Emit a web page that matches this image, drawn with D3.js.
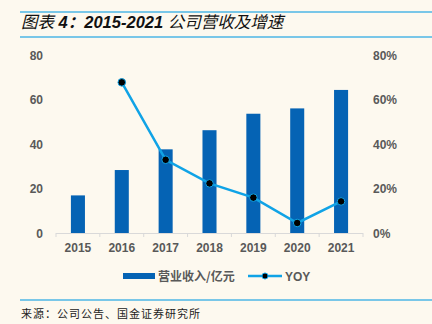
<!DOCTYPE html>
<html>
<head>
<meta charset="utf-8">
<script src="https://d3js.org/d3.v7.min.js"></script>
<style>
body { margin: 0; background: #fdf9ef; }
svg { display: block; }
</style>
</head>
<body>
<svg id="chart" width="432" height="324"></svg>
<script>
  var years = ["2015", "2016", "2017", "2018", "2019", "2020", "2021"];
  var revenue = [16.9, 28.3, 37.6, 46.2, 53.6, 56.0, 64.3];
  var yoy = [null, 0.677, 0.329, 0.223, 0.159, 0.045, 0.142];
  var leftTicks = [0, 20, 40, 60, 80];
  var rightTicks = [0, 0.2, 0.4, 0.6, 0.8];

  var svg = d3.select("#chart");
  var font = "'Liberation Sans', Arial, sans-serif";

  // title and rules
  svg.append("rect").attr("width", 432).attr("height", 324).attr("fill", "#fdf9ef");
  svg.append("line").attr("x1", 20).attr("x2", 432).attr("y1", 12).attr("y2", 12)
    .attr("stroke", "#4db6e6").attr("stroke-width", 1.5);
  svg.append("line").attr("x1", 20).attr("x2", 432).attr("y1", 37).attr("y2", 37)
    .attr("stroke", "#4db6e6").attr("stroke-width", 1.5);
  var title = svg.append("text").attr("x", 21).attr("y", 28)
    .attr("font-family", "'Liberation Sans', 'Noto Sans CJK SC', sans-serif")
    .attr("font-size", 16.5).attr("font-style", "italic")
    .attr("fill", "#111");
  title.append("tspan").attr("font-weight", "normal").text("图表\u00a0");
  title.append("tspan").attr("font-weight", "bold").text("4：2015-2021\u00a0");
  title.append("tspan").attr("font-weight", "normal").text("公司营收及增速");

  svg.append("line").attr("x1", 20).attr("x2", 432).attr("y1", 300).attr("y2", 300)
    .attr("stroke", "#4db6e6").attr("stroke-width", 1.5);
  svg.append("text").attr("x", 21).attr("y", 318)
    .attr("font-family", "'Noto Sans CJK SC', sans-serif")
    .attr("font-size", 11).attr("letter-spacing", 1).attr("fill", "#222")
    .text("来源：公司公告、国金证券研究所");

  var x = d3.scaleBand().domain(years).range([56, 363]).paddingInner(0.68).paddingOuter(0.34);
  var xs = d3.scaleBand().domain(years).range([56, 363]);
  var yL = d3.scaleLinear().domain([0, 80]).range([233, 55]);
  var yR = d3.scaleLinear().domain([0, 0.8]).range([233, 55]);

  var g = svg.append("g");

  // bars
  g.selectAll("rect.bar").data(revenue).enter().append("rect")
    .attr("class", "bar")
    .attr("x", function (d, i) { return x(years[i]); })
    .attr("width", x.bandwidth())
    .attr("y", function (d) { return yL(d); })
    .attr("height", function (d) { return yL(0) - yL(d); })
    .attr("fill", "#0563b4");

  // x axis line + ticks
  g.append("line").attr("x1", 56).attr("x2", 363).attr("y1", yL(0) + 0.5).attr("y2", yL(0) + 0.5)
    .attr("stroke", "#d9d9d9").attr("stroke-width", 1);
  var bounds = years.map(function (d) { return xs(d); }).concat([363]);
  g.selectAll("line.tk").data(bounds).enter().append("line")
    .attr("class", "tk")
    .attr("x1", function (d) { return d; }).attr("x2", function (d) { return d; })
    .attr("y1", yL(0)).attr("y2", yL(0) + 4)
    .attr("stroke", "#d9d9d9");

  g.selectAll("text.xl").data(years).enter().append("text")
    .attr("class", "xl")
    .attr("x", function (d) { return xs(d) + xs.bandwidth() / 2; })
    .attr("y", 252)
    .attr("text-anchor", "middle")
    .attr("font-family", font).attr("font-size", 12).attr("font-weight", "bold")
    .attr("fill", "#595959")
    .text(function (d) { return d; });

  g.selectAll("text.yl").data(leftTicks).enter().append("text")
    .attr("class", "yl")
    .attr("x", 43)
    .attr("y", function (d) { return yL(d) + 4.5; })
    .attr("text-anchor", "end")
    .attr("font-family", font).attr("font-size", 12).attr("font-weight", "bold")
    .attr("fill", "#595959")
    .text(function (d) { return d; });

  g.selectAll("text.yr").data(rightTicks).enter().append("text")
    .attr("class", "yr")
    .attr("x", 373)
    .attr("y", function (d) { return yR(d) + 4.5; })
    .attr("font-family", font).attr("font-size", 12).attr("font-weight", "bold")
    .attr("fill", "#595959")
    .text(function (d) { return Math.round(d * 100) + "%"; });

  // yoy line
  var pts = yoy.map(function (d, i) { return { year: years[i], v: d }; })
    .filter(function (d) { return d.v !== null; });
  var line = d3.line()
    .x(function (d) { return xs(d.year) + xs.bandwidth() / 2; })
    .y(function (d) { return yR(d.v); });
  g.append("path").attr("d", line(pts))
    .attr("fill", "none").attr("stroke", "#10a3e6").attr("stroke-width", 2.5);
  g.selectAll("circle.pt").data(pts).enter().append("circle")
    .attr("class", "pt")
    .attr("cx", function (d) { return xs(d.year) + xs.bandwidth() / 2; })
    .attr("cy", function (d) { return yR(d.v); })
    .attr("r", 3.8)
    .attr("fill", "#000").attr("stroke", "#10a3e6").attr("stroke-width", 1);

  // legend
  var lg = svg.append("g");
  lg.append("rect").attr("x", 123).attr("y", 273).attr("width", 32).attr("height", 6).attr("fill", "#0563b4");
  lg.append("text").attr("x", 158).attr("y", 281)
    .attr("font-family", "'Noto Sans CJK SC', sans-serif").attr("font-size", 12).attr("font-weight", "bold")
    .attr("fill", "#595959").text("营业收入/亿元");
  lg.append("line").attr("x1", 248).attr("x2", 282).attr("y1", 276).attr("y2", 276)
    .attr("stroke", "#10a3e6").attr("stroke-width", 2.5);
  lg.append("circle").attr("cx", 265).attr("cy", 276).attr("r", 3)
    .attr("fill", "#000").attr("stroke", "#10a3e6").attr("stroke-width", 1);
  lg.append("text").attr("x", 285).attr("y", 281)
    .attr("font-family", font).attr("font-size", 12).attr("font-weight", "bold")
    .attr("fill", "#595959").text("YOY");
</script>
</body>
</html>
